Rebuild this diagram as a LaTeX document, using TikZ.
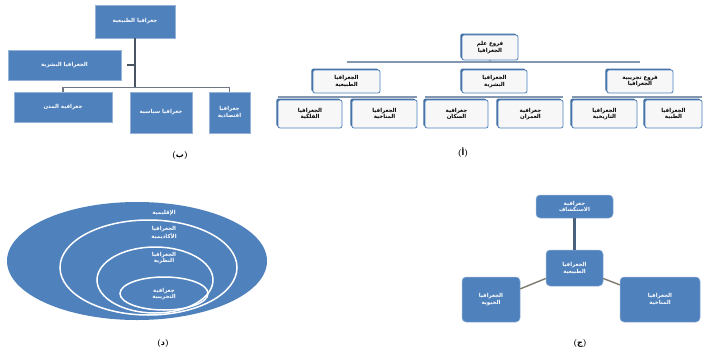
\documentclass[tikz,border=0pt]{standalone}
\usepackage{fontspec}
\newfontfamily\arabicfont[Script=Arabic]{DejaVu Sans}
\TeXXeTstate=1
\usetikzlibrary{shadows}
\definecolor{boxblue}{HTML}{4F81BD}
\definecolor{barblue}{HTML}{8497B0}
\definecolor{trunkgray}{HTML}{4A5563}
\definecolor{linkgray}{HTML}{7F7A6E}
\newcommand{\artext}[1]{{\arabicfont\beginR #1\endR}}
\newcommand{\panellabel}[1]{{\bfseries(}{\arabicfont\bfseries #1}{\bfseries)}}

\begin{document}
\begin{tikzpicture}[x=1pt, y=-1pt,
    abox/.style={draw=boxblue, line width=0.8pt, fill=gray!6, rounded corners=2pt,
      text=black, align=center, inner sep=1pt, font=\fontsize{5.5}{6.5}\selectfont\bfseries,
      general shadow={fill=boxblue!85!black, shadow xshift=-1.6pt, shadow yshift=1.4pt}},
    bbox/.style={draw=boxblue!60!white, line width=0.5pt, fill=boxblue,
      text=white, align=center, inner sep=1pt, font=\fontsize{5.5}{6.8}\selectfont\bfseries},
    cbox/.style={bbox, rounded corners=4pt},
    abar/.style={barblue, line width=2pt},
    trunk/.style={trunkgray, line width=2.2pt},
    bbar/.style={trunkgray!80!white, line width=1.4pt},
    link/.style={linkgray, line width=1.4pt},
    ring/.style={white, line width=1.5pt},
    ringtext/.style={text=white, align=center, inner sep=0pt, font=\fontsize{5.5}{6.5}\selectfont\bfseries},
    plabel/.style={font=\fontsize{8}{9}\selectfont}]
  \useasboundingbox[fill=white] (0,0) rectangle (703,361);

  % (a) branches of geography
  \node[abox, minimum width=56pt, minimum height=25pt] (aroot) at (490,47.5)
    {\artext{فروع علم}\\\artext{الجغرافيا}};
  \node[abox, minimum width=67pt, minimum height=23pt] (a1) at (346.5,81.5)
    {\artext{الجغرافيا}\\\artext{الطبيعية}};
  \node[abox, minimum width=65pt, minimum height=23pt] (a2) at (494.5,81.5)
    {\artext{الجغرافيا}\\\artext{البشرية}};
  \node[abox, minimum width=66pt, minimum height=23pt] (a3) at (640,81.5)
    {\artext{فروع تجريبية}\\\artext{الجغرافيا}};

  \node[abox, minimum width=64pt, minimum height=28pt] (a11) at (310,114)
    {\artext{الجغرافيا}\\\artext{الفلكية}};
  \node[abox, minimum width=65pt, minimum height=28pt] (a12) at (384.5,114)
    {\artext{الجغرافيا}\\\artext{المناخية}};
  \node[abox, minimum width=63pt, minimum height=28pt] (a21) at (456.5,114)
    {\artext{جغرافية}\\\artext{السكان}};
  \node[abox, minimum width=65pt, minimum height=28pt] (a22) at (530.5,114)
    {\artext{جغرافية}\\\artext{العمران}};
  \node[abox, minimum width=65pt, minimum height=28pt] (a31) at (604.5,114)
    {\artext{الجغرافيا}\\\artext{التاريخية}};
  \node[abox, minimum width=57pt, minimum height=28pt] (a32) at (673.5,114)
    {\artext{الجغرافيا}\\\artext{الطبية}};

  \draw[abar] (aroot.south) -- ++(0,2);
  \draw[abar] ([yshift=8pt]a1.north) -- ([yshift=8pt]a3.north);
  \draw[abar] ([yshift=3pt]a11.north west) -- ([yshift=3pt]a12.north east);
  \draw[abar] ([yshift=3pt]a21.north west) -- ([yshift=3pt]a22.north east);
  \draw[abar] ([yshift=3pt]a31.north west) -- ([yshift=3pt]a32.north east);

  \node[plabel] (alabel) at (463,153) {\panellabel{أ}};

  % (b) organisation chart
  \node[bbox, minimum width=80pt, minimum height=33pt] (btop) at (135,21.5)
    {\artext{جغرافيا الطبيعية}};
  \node[bbox, minimum width=113pt, minimum height=30pt] (basst) at (64.5,65)
    {\artext{الجغرافيا البشرية}};
  \node[bbox, minimum width=98pt, minimum height=30pt] (b1) at (63,107)
    {\artext{جغرافية المدن}};
  \node[bbox, minimum width=62pt, minimum height=41pt] (b2) at (161,112.5)
    {\artext{جغرافيا سياسية}};
  \node[bbox, minimum width=41pt, minimum height=41pt] (b3) at (229.5,112.5)
    {\artext{جغرافيا}\\\artext{اقتصادية}};

  \draw[trunk] (btop.south) -- ++(0,50);
  \draw[trunk] ([xshift=6pt]basst.east) -- (basst.east -| btop.south);
  \draw[bbar] (b1.north) -- ++(0,-4) -| (b3.north);

  \node[plabel] (blabel) at (180,155) {\panellabel{ب}};

  % (c) physical geography and its neighbours
  \node[cbox, minimum width=77pt, minimum height=23pt] (ctop) at (574.5,206.5)
    {\artext{جغرافية}\\\artext{الاستكشاف}};
  \node[cbox, minimum width=57pt, minimum height=36pt] (ccent) at (574.5,268)
    {\artext{الجغرافيا}\\\artext{الطبيعية}};
  \node[cbox, minimum width=58pt, minimum height=45pt] (cleft) at (491,299.5)
    {\artext{الجغرافيا}\\\artext{الحيوية}};
  \node[cbox, minimum width=80pt, minimum height=45pt] (cright) at (660,299.5)
    {\artext{الجغرافيا}\\\artext{المناخية}};

  \draw[trunk, trunkgray!70!boxblue] (ctop.south) -- (ccent.north);
  \draw[link] (cleft.20) -- (ccent.-160);
  \draw[link] (ccent.-20) -- (cright.160);

  \node[plabel] (clabel) at (580,343) {\panellabel{ج}};

  % (d) nested scales
  \fill[boxblue] (137,261) ellipse [x radius=130, y radius=59];
  \draw[ring] (148.5,267.5) ellipse [x radius=88.5, y radius=47.5];
  \draw[ring] (155,280) ellipse [x radius=58, y radius=33];
  \draw[ring] (164,293.5) ellipse [x radius=44, y radius=16.5];

  \node[ringtext] (d1) at (164,213) {\artext{الإقليمية}};
  \node[ringtext] (d2) at (164,233) {\artext{الجغرافيا}\\\artext{الأكاديمية}};
  \node[ringtext] (d3) at (164,258) {\artext{الجغرافيا}\\\artext{النظرية}};
  \node[ringtext] (d4) at (164,294) {\artext{جغرافية}\\\artext{التجريبية}};

  \node[plabel] (dlabel) at (163,343) {\panellabel{د}};
\end{tikzpicture}
\end{document}
